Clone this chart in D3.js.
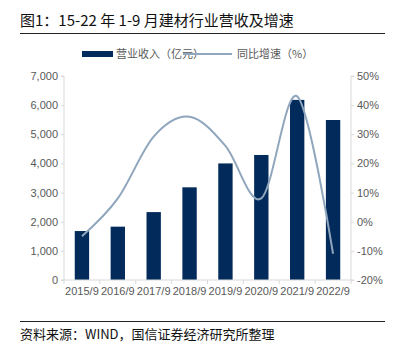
<!DOCTYPE html>
<html><head><meta charset="utf-8">
<script src="https://cdn.jsdelivr.net/npm/d3@7"></script>
<style>
html,body{margin:0;padding:0;background:#fff;}
svg{display:block;}
</style></head>
<body>
<svg id="chart" width="395" height="359"></svg>
<script>
const categories = ["2015/9","2016/9","2017/9","2018/9","2019/9","2020/9","2021/9","2022/9"];
const revenue = [1680, 1830, 2330, 3180, 4000, 4290, 6180, 5490];
const growth = [-5.0, 8.0, 29.2, 36.0, 26.0, 8.0, 43.0, -11.0];
const leftTicks = [0,1000,2000,3000,4000,5000,6000,7000];
const rightTicks = [-20,-10,0,10,20,30,40,50];
const titleText = "图1：15-22 年 1-9 月建材行业营收及增速";
const sourceText = "资料来源：WIND，国信证券经济研究所整理";
const legendBar = "营业收入（亿元）";
const legendLine = "同比增速（%）";

const svg = d3.select("#chart");
const cjk = "'Noto Sans CJK SC','Noto Sans',sans-serif";
const num = "'Liberation Sans',Arial,sans-serif";
const gray = "#595959";
const axisCol = "#d9d9d9";
const barCol = "#022a5a";
const lineCol = "#8fa6bd";

const L = 64, R = 351, T = 76, B = 280;
const x = d3.scaleBand().domain(categories).range([L, R]).paddingInner(0.6).paddingOuter(0.3);
const yL = d3.scaleLinear().domain([0, 7000]).range([B, T]);
const yR = d3.scaleLinear().domain([-20, 50]).range([B, T]);

// title
svg.append("text").attr("x", 20).attr("y", 26).attr("font-family", cjk).attr("font-size", 15)
  .attr("fill", "#111").text(titleText);
svg.append("line").attr("x1", 20).attr("x2", 385).attr("y1", 33.5).attr("y2", 33.5)
  .attr("stroke", "#222").attr("stroke-width", 1.2);

// footer
svg.append("line").attr("x1", 20).attr("x2", 385).attr("y1", 321.5).attr("y2", 321.5)
  .attr("stroke", "#222").attr("stroke-width", 1.2);
svg.append("text").attr("x", 20).attr("y", 339).attr("font-family", cjk).attr("font-size", 13)
  .attr("fill", "#111").text(sourceText);

// bars
svg.append("g").selectAll("rect").data(revenue).join("rect")
  .attr("x", (d, i) => x(categories[i]))
  .attr("width", x.bandwidth())
  .attr("y", d => yL(d))
  .attr("height", d => B - yL(d))
  .attr("fill", barCol);

// axes
const gl = svg.append("g").attr("transform", `translate(${L},0)`)
  .call(d3.axisLeft(yL).tickValues(leftTicks).tickSize(3).tickPadding(3).tickFormat(d3.format(",")));
const gr = svg.append("g").attr("transform", `translate(${R},0)`)
  .call(d3.axisRight(yR).tickValues(rightTicks).tickSize(3).tickPadding(3).tickFormat(d => d + "%"));
const gb = svg.append("g").attr("transform", `translate(0,${B})`)
  .call(d3.axisBottom(x).tickSize(0).tickPadding(7));
// category boundary ticks
const bounds = d3.range(categories.length + 1).map(i => L + i * (R - L) / categories.length);
svg.append("g").selectAll("line").data(bounds).join("line")
  .attr("x1", d => d).attr("x2", d => d).attr("y1", B).attr("y2", B + 4)
  .attr("stroke", axisCol);
[gl, gr, gb].forEach(g => {
  g.selectAll(".domain").attr("stroke", axisCol);
  g.selectAll(".tick line").attr("stroke", axisCol);
  g.selectAll(".tick text").attr("fill", gray).attr("font-family", num).attr("font-size", 11);
});
gl.select(".domain").attr("d", `M-3,${T}H0V${B}H-3`);
gr.select(".domain").attr("d", `M3,${T}H0V${B}H3`);
gb.select(".domain").attr("d", `M${L},0H${R}`);

// line
const line = d3.line()
  .x((d, i) => x(categories[i]) + x.bandwidth() / 2)
  .y(d => yR(d))
  .curve(d3.curveCardinal.tension(0));
svg.append("path").datum(growth).attr("d", line)
  .attr("fill", "none").attr("stroke", lineCol).attr("stroke-width", 2);

// legend
const lg = svg.append("g");
lg.append("rect").attr("x", 82).attr("y", 51).attr("width", 31).attr("height", 6).attr("fill", barCol);
lg.append("text").attr("x", 116).attr("y", 58).attr("font-family", cjk).attr("font-size", 11)
  .attr("fill", gray).text(legendBar);
lg.append("line").attr("x1", 183).attr("x2", 232).attr("y1", 54).attr("y2", 54)
  .attr("stroke", lineCol).attr("stroke-width", 2);
lg.append("text").attr("x", 237).attr("y", 58).attr("font-family", cjk).attr("font-size", 11)
  .attr("fill", gray).text(legendLine);
</script>
</body></html>
